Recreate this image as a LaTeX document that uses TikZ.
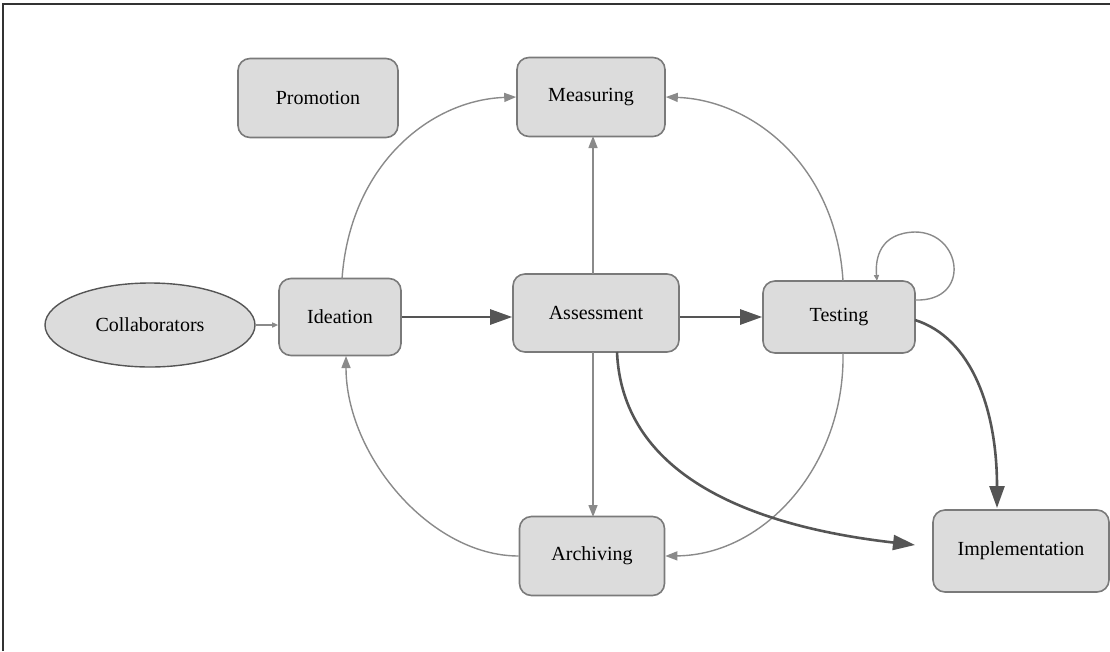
\documentclass[tikz,border=0pt]{standalone}
\usepackage{fontspec}
\setmainfont{Liberation Serif}
\usetikzlibrary{arrows.meta,shapes.geometric}
\definecolor{boxfill}{HTML}{DCDCDC}
\definecolor{boxline}{HTML}{7A7A7A}
\definecolor{thinedge}{HTML}{8A8A8A}
\definecolor{thickedge}{HTML}{555555}
\definecolor{framecol}{HTML}{333333}
\tikzset{
  stage/.style={draw=boxline, line width=1.6pt, fill=boxfill, rounded corners=12pt,
    inner sep=0pt, font=\fontsize{20}{23}\selectfont},
  actor/.style={ellipse, draw=thickedge, line width=1.4pt, fill=boxfill, inner sep=0pt,
    font=\fontsize{20}{23}\selectfont},
  lightflow/.style={draw=thinedge, line width=1.4pt,
    -{Triangle[length=12pt,width=9pt]}},
  heavyflow/.style={draw=thickedge, line width=2.6pt,
    -{Triangle[length=22pt,width=15pt]}},
}
\begin{document}
\begin{tikzpicture}[x=1pt,y=-1pt]
  \useasboundingbox (0,0) rectangle (1110,651);
  % frame edges
  \draw[framecol, line width=1.4pt] (3,651) -- (3,4) -- (1110,4);

  % stages
  \node[stage, minimum width=160pt, minimum height=79pt] (pro) at (318,98) {Promotion};
  \node[stage, minimum width=148pt, minimum height=79pt] (mea) at (591,97) {Measuring};
  \node[actor, minimum width=210pt, minimum height=84pt] (col) at (150,325) {Collaborators};
  \node[stage, minimum width=122pt, minimum height=77pt] (ide) at (340,317) {Ideation};
  \node[stage, minimum width=166pt, minimum height=78pt] (ass) at (596,313) {Assessment};
  \node[stage, minimum width=152pt, minimum height=72pt] (tes) at (839,317) {Testing};
  \node[stage, minimum width=145pt, minimum height=79pt] (arc) at (592,556) {Archiving};
  \node[stage, minimum width=176pt, minimum height=82pt] (imp) at (1021,551) {Implementation};

  % straight flows
  \draw[lightflow, -{Triangle[length=6pt,width=5pt]}] (col.east) -- (ide.west |- col.east);
  \draw[heavyflow] (ide.east) -- (ass.west |- ide.east);
  \draw[heavyflow] (ass.east |- tes.west) -- (tes.west);
  \draw[lightflow] (593,274) -- (593,136);
  \draw[lightflow] (593,352) -- (593,517);

  % curved flows
  \draw[lightflow] (342,279) .. controls (350,165) and (430,100) .. (mea.west);
  \draw[lightflow] (843,281) .. controls (836,165) and (752,100) .. (mea.east);
  \draw[lightflow] (843,353) .. controls (845,465) and (765,555) .. (arc.east);
  \draw[lightflow] (arc.west) .. controls (430,556) and (346,455) .. (346,356);
  \draw[heavyflow] (617,352) .. controls (622,470) and (740,525) .. (915,545);
  \draw[heavyflow] (915,320) .. controls (972,338) and (997,410) .. (997,508);

  % self loop on testing
  \draw[lightflow, -{Triangle[length=6pt,width=5pt]}]
    (915,300) .. controls (972,302) and (962,232) .. (915,232)
    .. controls (880,233) and (875,258) .. (877,281);
\end{tikzpicture}
\end{document}
